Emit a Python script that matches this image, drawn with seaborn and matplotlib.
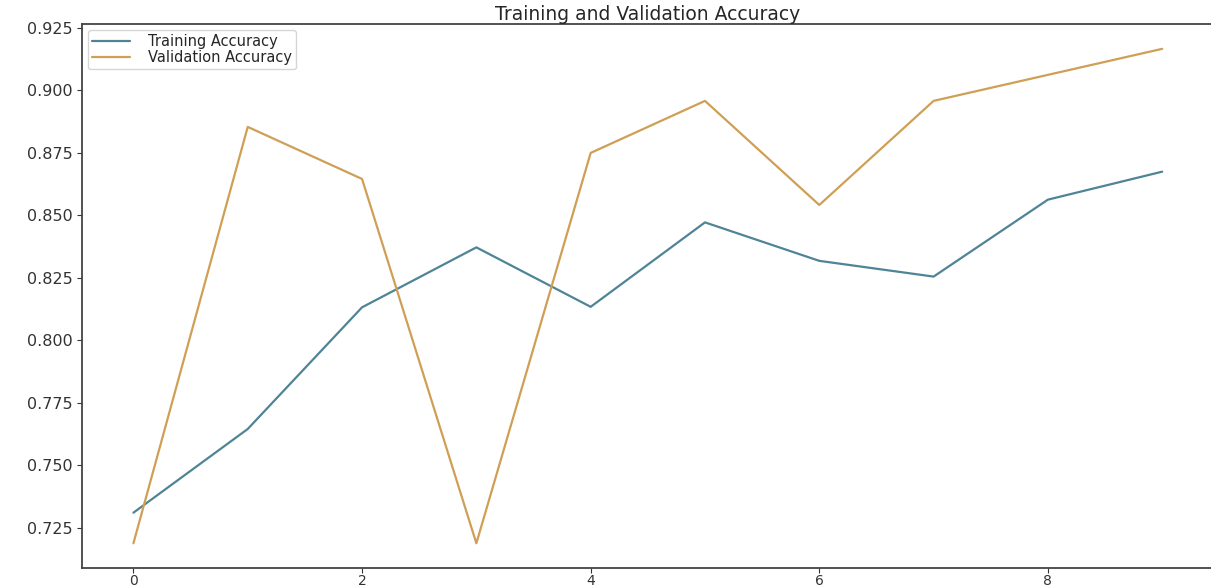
import pandas as pd
import matplotlib.pyplot as plt
import seaborn as sns

# エポックごとの精度
epochs = list(range(10))
train_acc = [0.731, 0.7645, 0.8132, 0.8372, 0.8134, 0.8472, 0.8318, 0.8255, 0.8563, 0.8675]
val_acc = [0.71875, 0.885417, 0.864583, 0.71875, 0.875, 0.895833, 0.854167, 0.895833, 0.90625, 0.916667]

df = pd.DataFrame({
    "epoch": epochs * 2,
    "acc": train_acc + val_acc,
    "kind": ["Training Accuracy"] * 10 + ["Validation Accuracy"] * 10,
})

sns.set_style("ticks")
plt.rcParams['font.family'] = ['DejaVu Sans']

fig = plt.figure(figsize=(12.11, 5.88), dpi=100)
# 右端の枠線は画像の外に出す
ax = fig.add_axes([0.0677, 0.034, 0.9345, 0.925])

sns.lineplot(data=df, x="epoch", y="acc", hue="kind",
             palette=["#4f8497", "#cf9f55"], linewidth=1.6, ax=ax)

ax.set_xlabel("")
ax.set_ylabel("")
ax.set_xticks([0, 2, 4, 6, 8])
ax.tick_params(axis="y", labelsize=11.5, colors="#333333")
ax.tick_params(axis="x", labelsize=10, pad=1, colors="#333333")
for s in ax.spines.values():
    s.set_linewidth(1.3)
    s.set_color("#444444")

ax.legend(loc="upper left", fontsize=10.5, frameon=True, borderaxespad=0.4,
          handlelength=2.6, labelspacing=0.05, borderpad=0.3, handletextpad=1.2)
ax.set_title("Training and Validation Accuracy", fontsize=13.5, pad=3)

plt.savefig("out.png", dpi=100)
